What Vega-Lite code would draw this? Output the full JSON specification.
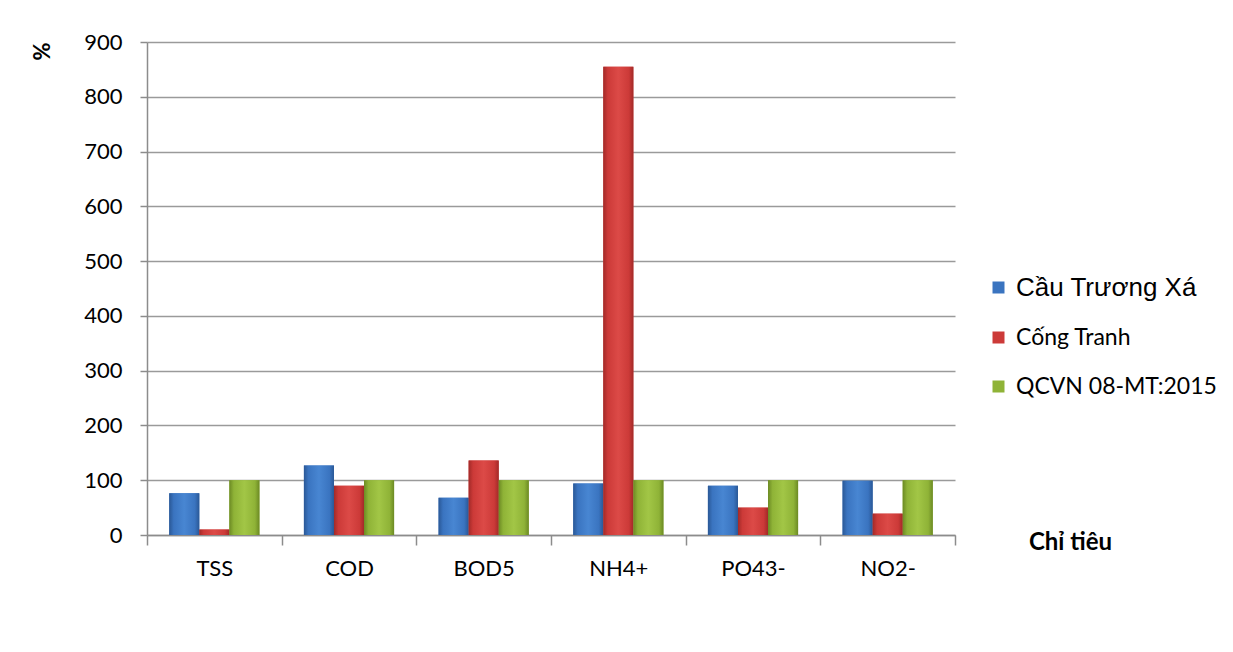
{
  "$schema": "https://vega.github.io/schema/vega-lite/v6.json",
  "width": 808,
  "height": 493,
  "autosize": {"type": "none"},
  "padding": {"left": 147, "top": 42, "right": 278, "bottom": 117},
  "background": "white",
  "data": {
    "values": [
      {"chi_tieu": "TSS", "diem": "Cầu Trương Xá", "phan_tram": 76},
      {"chi_tieu": "TSS", "diem": "Cống Tranh", "phan_tram": 10},
      {"chi_tieu": "TSS", "diem": "QCVN 08-MT:2015", "phan_tram": 100},
      {"chi_tieu": "COD", "diem": "Cầu Trương Xá", "phan_tram": 127},
      {"chi_tieu": "COD", "diem": "Cống Tranh", "phan_tram": 90},
      {"chi_tieu": "COD", "diem": "QCVN 08-MT:2015", "phan_tram": 100},
      {"chi_tieu": "BOD5", "diem": "Cầu Trương Xá", "phan_tram": 68},
      {"chi_tieu": "BOD5", "diem": "Cống Tranh", "phan_tram": 136},
      {"chi_tieu": "BOD5", "diem": "QCVN 08-MT:2015", "phan_tram": 100},
      {"chi_tieu": "NH4+", "diem": "Cầu Trương Xá", "phan_tram": 94},
      {"chi_tieu": "NH4+", "diem": "Cống Tranh", "phan_tram": 855},
      {"chi_tieu": "NH4+", "diem": "QCVN 08-MT:2015", "phan_tram": 100},
      {"chi_tieu": "PO43-", "diem": "Cầu Trương Xá", "phan_tram": 90},
      {"chi_tieu": "PO43-", "diem": "Cống Tranh", "phan_tram": 50},
      {"chi_tieu": "PO43-", "diem": "QCVN 08-MT:2015", "phan_tram": 100},
      {"chi_tieu": "NO2-", "diem": "Cầu Trương Xá", "phan_tram": 99},
      {"chi_tieu": "NO2-", "diem": "Cống Tranh", "phan_tram": 39},
      {"chi_tieu": "NO2-", "diem": "QCVN 08-MT:2015", "phan_tram": 100}
    ]
  },
  "config": {
    "view": {"stroke": null},
    "font": "Lato"
  },
  "encoding": {
    "x": {
      "field": "chi_tieu",
      "type": "nominal",
      "sort": ["TSS", "COD", "BOD5", "NH4+", "PO43-", "NO2-"],
      "scale": {"paddingInner": 0, "paddingOuter": 0},
      "axis": {
        "title": "Chỉ tiêu",
        "titleFont": "Lato",
        "titleFontSize": 24,
        "titleFontWeight": "bold",
        "titleColor": "#000000",
        "titleAnchor": null,
        "titleAlign": "center",
        "titleBaseline": "middle",
        "titleX": 923,
        "titleY": 7,
        "labelAngle": 0,
        "labelFont": "Lato",
        "labelFontSize": 22,
        "labelColor": "#000000",
        "labelPadding": 13,
        "tickBand": "extent",
        "tickSize": 10,
        "tickColor": "#8c8c8c",
        "tickWidth": 1.5,
        "domainColor": "#8c8c8c",
        "domainWidth": 1.5
      }
    },
    "xOffset": {
      "field": "diem",
      "type": "nominal",
      "sort": ["Cầu Trương Xá", "Cống Tranh", "QCVN 08-MT:2015"],
      "scale": {"paddingInner": 0, "paddingOuter": 0.74}
    },
    "y": {
      "field": "phan_tram",
      "type": "quantitative",
      "scale": {"domain": [0, 900], "nice": false},
      "axis": {
        "title": "%",
        "titleFont": "Lato",
        "titleFontSize": 22,
        "titleFontWeight": "bold",
        "titleColor": "#000000",
        "titleAngle": -90,
        "titleAnchor": null,
        "titleAlign": "center",
        "titleBaseline": "middle",
        "titleX": -105,
        "titleY": 9,
        "values": [0, 100, 200, 300, 400, 500, 600, 700, 800, 900],
        "labelFont": "Lato",
        "labelFontSize": 22,
        "labelColor": "#000000",
        "labelPadding": 18,
        "tickSize": 7,
        "tickColor": "#8c8c8c",
        "tickWidth": 1.5,
        "domainColor": "#8c8c8c",
        "domainWidth": 1.5,
        "grid": true,
        "gridColor": "#9a9a9a",
        "gridWidth": 1.5
      }
    }
  },
  "layer": [
    {
      "mark": {"type": "bar", "strokeWidth": 0},
      "encoding": {
        "color": {
          "field": "diem",
          "type": "nominal",
          "scale": {
            "domain": ["Cầu Trương Xá", "Cống Tranh", "QCVN 08-MT:2015"],
            "range": ["#3a74c0", "#cc3a38", "#8fb337"]
          },
          "legend": {
            "title": null,
            "orient": "none",
            "legendX": 840,
            "legendY": 234,
            "symbolType": "square",
            "symbolSize": 144,
            "symbolStrokeWidth": 0,
            "symbolOpacity": 1,
            "labelFont": {"expr": "datum.label === 'Cầu Trương Xá' ? 'Liberation Sans' : 'Lato'"},
            "labelFontSize": {"expr": "datum.label === 'Cầu Trương Xá' ? 26 : 23"},
            "labelColor": "#000000",
            "labelOffset": 6,
            "labelLimit": 300,
            "rowPadding": 25
          }
        }
      }
    },
    {
      "transform": [{"filter": "datum.diem === 'Cầu Trương Xá'"}],
      "mark": {
        "type": "bar",
        "strokeWidth": 0,
        "fill": {"gradient": "linear", "x1": 0, "y1": 0, "x2": 1, "y2": 0,
          "stops": [{"offset": 0, "color": "#2a5896"}, {"offset": 0.15, "color": "#3a74c0"}, {"offset": 0.5, "color": "#4886d2"}, {"offset": 0.85, "color": "#3a74c0"}, {"offset": 1, "color": "#2a5896"}]}
      }
    },
    {
      "transform": [{"filter": "datum.diem === 'Cống Tranh'"}],
      "mark": {
        "type": "bar",
        "strokeWidth": 0,
        "fill": {"gradient": "linear", "x1": 0, "y1": 0, "x2": 1, "y2": 0,
          "stops": [{"offset": 0, "color": "#a22a28"}, {"offset": 0.15, "color": "#cc3a38"}, {"offset": 0.5, "color": "#dc4a47"}, {"offset": 0.85, "color": "#cc3a38"}, {"offset": 1, "color": "#a22a28"}]}
      }
    },
    {
      "transform": [{"filter": "datum.diem === 'QCVN 08-MT:2015'"}],
      "mark": {
        "type": "bar",
        "strokeWidth": 0,
        "fill": {"gradient": "linear", "x1": 0, "y1": 0, "x2": 1, "y2": 0,
          "stops": [{"offset": 0, "color": "#6c8a24"}, {"offset": 0.15, "color": "#8fb337"}, {"offset": 0.5, "color": "#a2c646"}, {"offset": 0.85, "color": "#8fb337"}, {"offset": 1, "color": "#6c8a24"}]}
      }
    }
  ]
}
